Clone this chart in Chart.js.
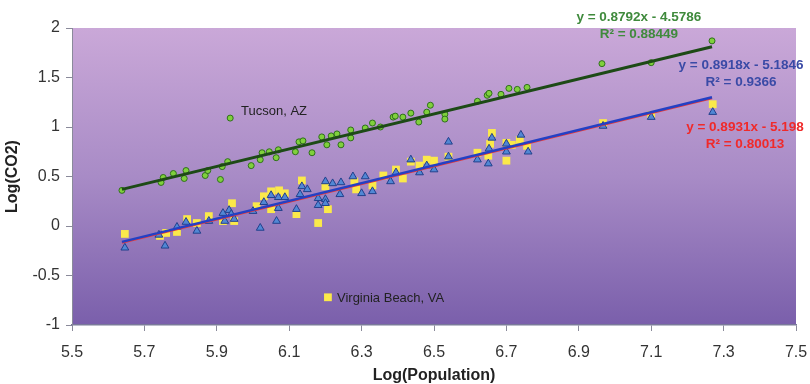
<!DOCTYPE html>
<html lang="en">
<head>
    <meta charset="UTF-8">
    <title>Log(CO2) vs Log(Population)</title>
    <script src="https://cdn.jsdelivr.net/npm/chart.js"></script>
    <style>
        body { margin: 0; background: #fff; }
        #wrap { width: 810px; height: 384px; position: relative; }
    </style>
</head>
<body>
    <div id="wrap"><canvas id="myChart"></canvas></div>

    <script>
        // Tick labels
        const xTicks = [5.5, 5.7, 5.9, 6.1, 6.3, 6.5, 6.7, 6.9, 7.1, 7.3, 7.5];
        const yTicks = [-1, -0.5, 0, 0.5, 1, 1.5, 2];

        // Green circles (x, y)
        const greenX = [5.638, 5.746, 5.752, 5.78, 5.81, 5.815, 5.868, 5.875, 5.91, 5.915, 5.93, 5.937, 5.995, 6.02, 6.025, 6.045, 6.064, 6.07, 6.117, 6.127, 6.138, 6.163, 6.19, 6.204, 6.216, 6.232, 6.243, 6.27, 6.27, 6.31, 6.33, 6.352, 6.387, 6.393, 6.414, 6.436, 6.458, 6.48, 6.49, 6.53, 6.53, 6.62, 6.647, 6.652, 6.685, 6.707, 6.73, 6.757, 6.964, 7.10, 7.268];
        const greenY = [0.36, 0.44, 0.49, 0.53, 0.48, 0.56, 0.51, 0.56, 0.47, 0.60, 0.65, 1.09, 0.61, 0.67, 0.74, 0.75, 0.69, 0.77, 0.75, 0.85, 0.86, 0.74, 0.90, 0.82, 0.91, 0.93, 0.82, 0.89, 0.97, 0.99, 1.04, 1.00, 1.10, 1.11, 1.10, 1.14, 1.05, 1.15, 1.22, 1.13, 1.08, 1.26, 1.32, 1.34, 1.33, 1.39, 1.38, 1.40, 1.64, 1.65, 1.87];

        // Yellow squares
        const yellowX = [5.646, 5.743, 5.76, 5.79, 5.818, 5.845, 5.878, 5.917, 5.942, 5.948, 6.01, 6.03, 6.05, 6.05, 6.072, 6.088, 6.12, 6.135, 6.18, 6.2, 6.207, 6.28, 6.285, 6.33, 6.36, 6.395, 6.414, 6.436, 6.46, 6.48, 6.50, 6.54, 6.62, 6.65, 6.655, 6.66, 6.70, 6.70, 6.715, 6.737, 6.757, 6.967, 7.10, 7.27, 6.207];
        const yellowY = [-0.08, -0.10, -0.07, -0.06, 0.07, 0.03, 0.10, 0.05, 0.23, 0.05, 0.20, 0.30, 0.35, 0.17, 0.36, 0.33, 0.12, 0.46, 0.03, 0.40, 0.17, 0.45, 0.37, 0.41, 0.51, 0.57, 0.48, 0.65, 0.61, 0.67, 0.66, 0.70, 0.74, 0.71, 0.83, 0.94, 0.84, 0.66, 0.82, 0.87, 0.81, 1.04, 1.12, 1.23, -0.72];

        // Blue triangles
        const blueX = [5.646, 5.74, 5.757, 5.79, 5.815, 5.845, 5.878, 5.917, 5.922, 5.934, 5.94, 5.948, 6.00, 6.02, 6.03, 6.05, 6.065, 6.07, 6.07, 6.088, 6.12, 6.13, 6.135, 6.15, 6.18, 6.18, 6.2, 6.2, 6.2, 6.22, 6.24, 6.243, 6.276, 6.30, 6.31, 6.33, 6.38, 6.395, 6.436, 6.46, 6.48, 6.50, 6.54, 6.54, 6.62, 6.65, 6.652, 6.66, 6.70, 6.70, 6.74, 6.76, 6.967, 7.10, 7.27];
        const blueY = [-0.22, -0.09, -0.20, -0.01, 0.04, -0.05, 0.05, 0.13, 0.05, 0.16, 0.12, 0.07, 0.15, -0.02, 0.24, 0.31, 0.05, 0.18, 0.29, 0.29, 0.17, 0.32, 0.40, 0.37, 0.28, 0.21, 0.27, 0.23, 0.45, 0.43, 0.32, 0.44, 0.50, 0.33, 0.50, 0.35, 0.45, 0.54, 0.67, 0.54, 0.61, 0.57, 0.85, 0.70, 0.67, 0.63, 0.78, 0.89, 0.83, 0.75, 0.92, 0.75, 1.01, 1.10, 1.15];

        // Trendline end points
        const trendX = [5.638, 7.268];
        const greenTrend = [0.37, 1.81];
        const blueTrend = [-0.16, 1.30];
        const redTrend = [-0.17, 1.29];

        // Text labels: [text, x, y, colour, align, bold]
        const labels = [
            ['y = 0.8792x - 4.5786', 7.066, 2.11, '#3f8a3c', 'center', true],
            ['R\u00b2 = 0.88449', 7.066, 1.94, '#3f8a3c', 'center', true],
            ['y = 0.8918x - 5.1846', 7.348, 1.626, '#3a4aa6', 'center', true],
            ['R\u00b2 = 0.9366', 7.348, 1.455, '#3a4aa6', 'center', true],
            ['y = 0.8931x - 5.198', 7.359, 1.0, '#f02a2a', 'center', true],
            ['R\u00b2 = 0.80013', 7.359, 0.828, '#f02a2a', 'center', true],
            ['Tucson, AZ', 5.967, 1.16, '#222', 'left', false],
            ['Virginia Beach, VA', 6.232, -0.727, '#222', 'left', false]
        ];

        const pts = (xs, ys) => xs.map((x, i) => ({ x: x, y: ys[i] }));

        // Hintergrund-Verlauf im Plotbereich
        const plotBackground = {
            id: 'plotBackground',
            beforeDraw(chart) {
                const { ctx, chartArea: a } = chart;
                const g = ctx.createLinearGradient(0, a.top, 0, a.bottom);
                g.addColorStop(0, '#caa8d8');
                g.addColorStop(0.5, '#a88bc6');
                g.addColorStop(1, '#7a5fab');
                ctx.save();
                ctx.fillStyle = g;
                ctx.fillRect(a.left, a.top, a.right - a.left, a.bottom - a.top);
                ctx.restore();
            }
        };

        const textLabels = {
            id: 'textLabels',
            afterDatasetsDraw(chart) {
                const { ctx, scales } = chart;
                ctx.save();
                ctx.textBaseline = 'middle';
                labels.forEach(l => {
                    ctx.font = (l[5] ? 'bold 13.5px' : '13px') + ' "Liberation Sans", Arial, sans-serif';
                    ctx.fillStyle = l[3];
                    ctx.textAlign = l[4];
                    ctx.fillText(l[0], scales.x.getPixelForValue(l[1]), scales.y.getPixelForValue(l[2]));
                });
                ctx.restore();
            }
        };

        const tickFont = { family: '"Liberation Sans", Arial, sans-serif', size: 16 };
        const titleFont = { family: '"Liberation Sans", Arial, sans-serif', size: 16, weight: 'bold', lineHeight: 1 };

        const ctx = document.getElementById('myChart').getContext('2d');
        const myChart = new Chart(ctx, {
            type: 'scatter',
            data: {
                datasets: [
                    {
                        label: 'green trend',
                        data: pts(trendX, greenTrend),
                        showLine: true,
                        borderColor: '#1d4a16',
                        borderWidth: 3,
                        pointRadius: 0,
                        order: 0
                    },
                    {
                        label: 'blue trend',
                        data: pts(trendX, blueTrend),
                        showLine: true,
                        borderColor: '#2440c4',
                        borderWidth: 2.5,
                        pointRadius: 0,
                        order: 0
                    },
                    {
                        label: 'red trend',
                        data: pts(trendX, redTrend),
                        showLine: true,
                        borderColor: '#e83a3a',
                        borderWidth: 2,
                        pointRadius: 0,
                        order: 1
                    },
                    {
                        label: 'triangles',
                        data: pts(blueX, blueY),
                        pointStyle: 'triangle',
                        pointRadius: 4.5,
                        backgroundColor: '#5187d4',
                        borderColor: '#22408c',
                        borderWidth: 1,
                        order: 2
                    },
                    {
                        label: 'squares',
                        data: pts(yellowX, yellowY),
                        pointStyle: 'rect',
                        pointRadius: 5.5,
                        backgroundColor: '#fbe94a',
                        borderColor: '#f3dd3a',
                        borderWidth: 0,
                        order: 3
                    },
                    {
                        label: 'circles',
                        data: pts(greenX, greenY),
                        pointStyle: 'circle',
                        pointRadius: 3,
                        backgroundColor: '#7fd03c',
                        borderColor: '#2f6f1c',
                        borderWidth: 1,
                        order: 4
                    }
                ]
            },
            options: {
                responsive: true,
                maintainAspectRatio: false,
                animation: false,
                layout: { padding: { top: 28, right: 14, left: 0, bottom: 0 } },
                plugins: {
                    legend: { display: false },
                    tooltip: { enabled: false }
                },
                scales: {
                    x: {
                        type: 'linear',
                        min: 5.5,
                        max: 7.5,
                        afterBuildTicks: s => { s.ticks = xTicks.map(v => ({ value: v })); },
                        afterFit: s => { s.height = 59; s.paddingLeft = 0; s.paddingRight = 0; },
                        ticks: {
                            font: tickFont,
                            color: '#333',
                            padding: 12,
                            maxRotation: 0,
                            callback: v => v.toFixed(1)
                        },
                        grid: { drawOnChartArea: false, drawTicks: true, tickLength: 6, color: '#8a8a9a' },
                        border: { display: true, color: '#7a7a9a', width: 1.5 },
                        title: { display: true, text: 'Log(Population)', font: titleFont, color: '#222', padding: { top: 0, bottom: 0 } }
                    },
                    y: {
                        type: 'linear',
                        min: -1,
                        max: 2,
                        afterBuildTicks: s => { s.ticks = yTicks.map(v => ({ value: v })); },
                        afterFit: s => { s.width = 72; s.paddingTop = 0; s.paddingBottom = 0; },
                        ticks: {
                            font: tickFont,
                            color: '#333',
                            padding: 6,
                            callback: v => String(v)
                        },
                        grid: { drawOnChartArea: false, drawTicks: true, tickLength: 6, color: '#8a8a9a' },
                        border: { display: true, color: '#8a8a9a', width: 1 },
                        title: { display: true, text: 'Log(CO2)', font: titleFont, color: '#222', padding: { top: 5, bottom: 0 } }
                    }
                }
            },
            plugins: [plotBackground, textLabels]
        });
    </script>
</body>
</html>
